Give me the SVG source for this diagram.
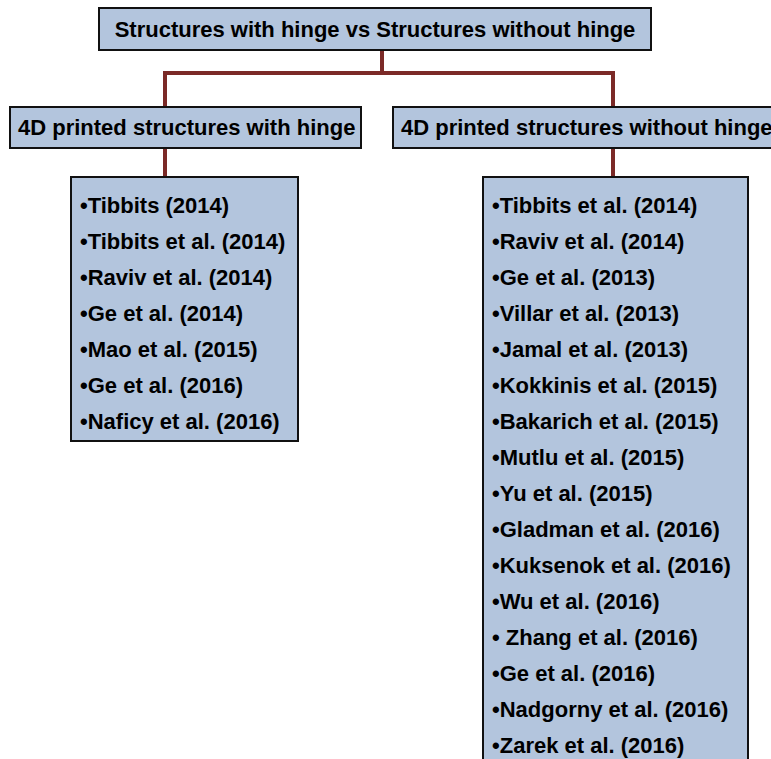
<svg xmlns="http://www.w3.org/2000/svg" width="771" height="759" viewBox="0 0 771 759">
  <style>
    .box { fill: #b3c5dd; stroke: #111; stroke-width: 2; }
    .lbl { font-family: "Liberation Sans", Arial, sans-serif; font-weight: bold; font-size: 22px; fill: #000; }
    .mid { text-anchor: middle; }
    .link { fill: none; stroke: #7b2a27; stroke-width: 4; stroke-linejoin: miter; }
  </style>
  <rect width="771" height="759" fill="#ffffff"/>

  <!-- connectors -->
  <g id="connectors">
    <path class="link" d="M382 50 V73 M165 107 V73 H613 V107"/>
    <path class="link" d="M165 148 V177"/>
    <path class="link" d="M613 148 V177"/>
  </g>

  <!-- root -->
  <g id="root">
    <rect class="box" x="99" y="8" width="552" height="42"/>
    <text class="lbl mid" x="375" y="37">Structures with hinge vs Structures without hinge</text>
  </g>

  <!-- branch: with hinge -->
  <g id="with-hinge">
    <rect class="box" x="10" y="107" width="351" height="41"/>
    <text class="lbl" x="18" y="135">4D printed structures with hinge</text>
  </g>

  <!-- branch: without hinge -->
  <g id="without-hinge">
    <rect class="box" x="393" y="107" width="390" height="41"/>
    <text class="lbl" x="401" y="135">4D printed structures without hinge</text>
  </g>

  <!-- list under "with hinge" -->
  <g id="with-hinge-list">
    <rect class="box" x="71" y="177" width="227" height="264"/>
    <text class="lbl" x="80" y="213">•Tibbits (2014)</text>
    <text class="lbl" x="80" y="249">•Tibbits et al. (2014)</text>
    <text class="lbl" x="80" y="285">•Raviv et al. (2014)</text>
    <text class="lbl" x="80" y="321">•Ge et al. (2014)</text>
    <text class="lbl" x="80" y="357">•Mao et al. (2015)</text>
    <text class="lbl" x="80" y="393">•Ge et al. (2016)</text>
    <text class="lbl" x="80" y="429">•Naficy et al. (2016)</text>
  </g>

  <!-- list under "without hinge" -->
  <g id="without-hinge-list">
    <rect class="box" x="483" y="177" width="265" height="600"/>
    <text class="lbl" x="492" y="213">•Tibbits et al. (2014)</text>
    <text class="lbl" x="492" y="249">•Raviv et al. (2014)</text>
    <text class="lbl" x="492" y="285">•Ge et al. (2013)</text>
    <text class="lbl" x="492" y="321">•Villar et al. (2013)</text>
    <text class="lbl" x="492" y="357">•Jamal et al. (2013)</text>
    <text class="lbl" x="492" y="393">•Kokkinis et al. (2015)</text>
    <text class="lbl" x="492" y="429">•Bakarich et al. (2015)</text>
    <text class="lbl" x="492" y="465">•Mutlu et al. (2015)</text>
    <text class="lbl" x="492" y="501">•Yu et al. (2015)</text>
    <text class="lbl" x="492" y="537">•Gladman et al. (2016)</text>
    <text class="lbl" x="492" y="573">•Kuksenok et al. (2016)</text>
    <text class="lbl" x="492" y="609">•Wu et al. (2016)</text>
    <text class="lbl" x="492" y="645">• Zhang et al. (2016)</text>
    <text class="lbl" x="492" y="681">•Ge et al. (2016)</text>
    <text class="lbl" x="492" y="717">•Nadgorny et al. (2016)</text>
    <text class="lbl" x="492" y="753">•Zarek et al. (2016)</text>
  </g>
</svg>
